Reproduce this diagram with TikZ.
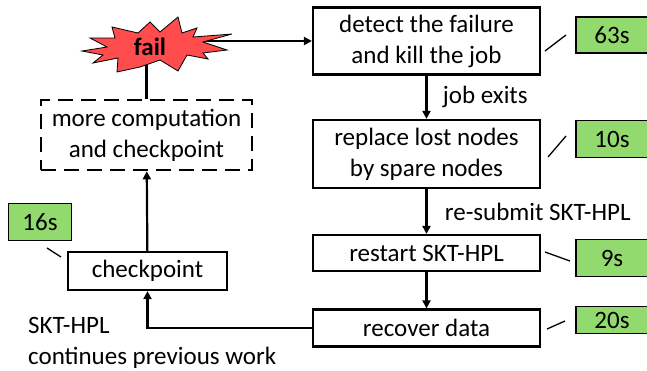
\documentclass[tikz,border=0pt]{standalone}
\usepackage{fontspec}
\setmainfont{Carlito}
\usetikzlibrary{arrows.meta, positioning, backgrounds}
\definecolor{failred}{RGB}{255,76,76}
\definecolor{costgreen}{RGB}{146,218,110}

\begin{document}
\begin{tikzpicture}[
    x=1pt, y=-1pt,
    font=\fontsize{25}{31}\selectfont,
    stage/.style={draw, rectangle, line width=2.2pt, minimum width=227pt, align=center, inner sep=2pt},
    cost/.style={draw, rectangle, line width=1.3pt, fill=costgreen, minimum width=72pt, minimum height=36pt},
    ticker/.style={line width=1.3pt},
    flow/.style={line width=2.2pt, -{Triangle[length=8pt, width=8pt]}},
    plain/.style={line width=2.2pt},
    burst/.style={draw, fill=failred, line width=0.8pt, line join=miter}
]
    \useasboundingbox (0,0) rectangle (647,370);

    % Recovery stages
    \node[stage, minimum height=67pt] (detect) at (426.5,41) {detect the failure\\and kill the job};
    \node[stage, minimum height=68pt] (replace) at (426.5,154) {replace lost nodes\\by spare nodes};
    \node[stage, minimum height=36pt] (restart) at (426.5,253) {restart SKT-HPL};
    \node[stage, minimum height=37pt] (recover) at (426.5,328) {recover data};

    % Normal run
    \node[stage, minimum width=159pt, minimum height=38pt] (ckpt) at (147.5,271) {checkpoint};
    \node[stage, line width=2.6pt, dash pattern=on 15pt off 8pt, minimum width=211pt, minimum height=70pt] (more) at (146.5,135) {more computation\\and checkpoint};

    % Failure: hand drawn burst behind the label
    \draw[burst] (82,51) -- (107,47) -- (90,38) -- (115,38) -- (112,27) -- (138,33)
        -- (150,22) -- (160,32) -- (178,17) -- (182,33) -- (197,28) -- (193,37)
        -- (232,34) -- (203,42) -- (227,50) -- (203,53) -- (208,59) -- (187,55)
        -- (178,71) -- (160,60) -- (140,67) -- (117,72) -- (118,58) -- (93,63)
        -- (103,55) -- cycle;
    \node[font=\fontsize{25}{31}\selectfont\bfseries, inner sep=1pt] (fail) at (150,47) {fail};
    \begin{scope}[on background layer]
        \draw[plain] (more.north) -- (more.north |- fail.center);
        \draw[flow] (fail.center |- detect.west) -- (detect.west);
    \end{scope}

    % Times
    \node[cost] (t63) at (612,35) {63s};
    \node[cost, minimum height=37pt] (t10) at (612,139) {10s};
    \node[cost, minimum height=37pt] (t9) at (612,258) {9s};
    \node[cost, minimum height=27pt] (t20) at (612,320) {20s};
    \node[cost, minimum width=63pt, minimum height=37pt] (t16) at (40,222) {16s};

    \draw[ticker] (545,51) -- (566,35);
    \draw[ticker] (548,157) -- (566,136);
    \draw[ticker] (545,252) -- (570,261);
    \draw[ticker] (547,329) -- (565,321);
    \draw[ticker] (47,248) -- (61,257);

    % Connections
    \draw[flow] (detect) -- node[right=12pt] {job exits} (replace);
    \draw[flow] (replace) -- node[right=14pt] {re-submit SKT-HPL} (restart);
    \draw[flow] (restart) -- (recover);
    \draw[flow] (recover.west) -| (ckpt.south);
    \draw[flow] (ckpt) -- (more);

    \node[anchor=west, align=left, inner sep=0pt] (note) at (28,343) {SKT-HPL\\continues previous work};
\end{tikzpicture}
\end{document}
